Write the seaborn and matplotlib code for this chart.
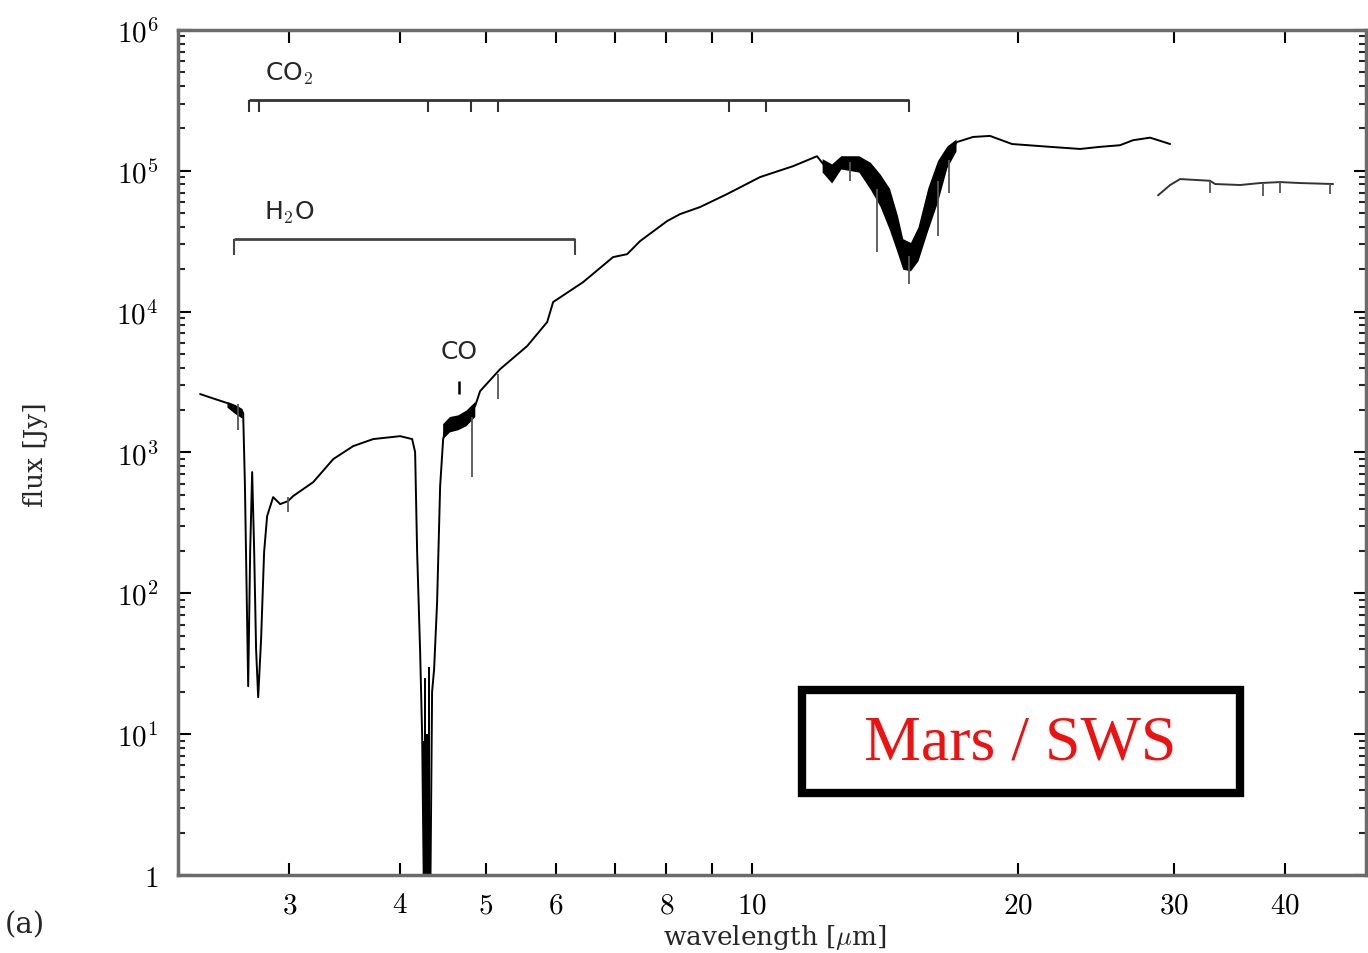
"""
Mars ISO/SWS spectrum - flux vs wavelength (log-log)
"""

import numpy as np
import matplotlib
matplotlib.use('Agg')
import matplotlib.pyplot as plt
from matplotlib.patches import Rectangle
from matplotlib.ticker import FixedLocator, NullLocator, LogLocator, NullFormatter
import seaborn as sns

# --- spectrum (wavelength in micron, flux in Jy) ---
main_wl = [2.378, 2.473, 2.572, 2.639, 2.653, 2.660, 2.672, 2.695, 2.709, 2.723, 2.737, 2.751,
           2.766, 2.787, 2.809, 2.831, 2.876, 2.929, 2.990, 3.029, 3.192, 3.363, 3.542, 3.731,
           4.002, 4.129, 4.161, 4.183, 4.216, 4.238, 4.260, 4.304, 4.327, 4.349, 4.372, 4.406,
           4.441, 4.476, 4.522, 4.617, 4.739, 4.864, 4.928, 5.192, 5.570, 5.867, 5.959, 6.442,
           6.965, 7.224, 7.472, 8.017, 8.292, 8.733, 9.371, 10.21, 11.13, 11.84, 12.03, 12.25,
           12.35, 12.57, 13.24, 13.60, 13.95, 14.32, 14.58, 14.81, 15.09, 15.36, 15.77, 16.18,
           16.61, 17.04, 17.77, 18.57, 19.67, 21.72, 23.48, 24.73, 26.05, 26.95, 28.17, 29.68]
main_flux = [2600, 2394, 2208, 2033, 1968, 1900, 600, 21.9, 200, 726, 206, 40,
             18.3, 47, 196, 353, 482, 430, 452, 490, 616, 898, 1110, 1245,
             1306, 1245, 1007, 196, 38, 9.7, 0.5, 0.5, 0.5, 20, 29, 86.5,
             577, 1245, 1650, 1591, 1784, 2136, 2729, 3910, 5700, 8430, 11700, 16200,
             24400, 25600, 31700, 44000, 49300, 55300, 68400, 90300, 108000, 127000, 112000, 91800,
             108000, 117000, 117000, 91800, 74300, 56200, 36700, 26500, 24800, 29200, 56200, 87400,
             127000, 160000, 174000, 177000, 155000, 148000, 143000, 148000, 152000, 165000, 172000, 155000]

# long-wavelength (LW) segment, offset from the SW part
lw_wl = [28.76, 29.68, 30.46, 32.92, 33.36, 35.60, 37.50, 39.51, 41.62, 45.35]
lw_flux = [67000, 79300, 87400, 85000, 80600, 79300, 81900, 83200, 81900, 80600]

# noisy parts of the spectrum (lower / upper envelope)
noise_wl = [12.0, 12.3, 12.6, 13.2, 13.6, 13.95, 14.3, 14.6, 14.8, 15.1, 15.4, 15.8, 16.2, 16.6, 17.0]
noise_lo = [98000, 82000, 103000, 98000, 74000, 56000, 38000, 26000, 20000, 19500, 23000, 38000, 60000, 105000, 138000]
noise_hi = [122000, 112000, 128000, 128000, 115000, 95000, 75000, 48000, 33000, 31000, 40000, 76000, 118000, 150000, 168000]

co_band_wl = [4.47, 4.55, 4.65, 4.75, 4.86]
co_band_lo = [1250, 1400, 1450, 1550, 1800]
co_band_hi = [1600, 1800, 1850, 2000, 2300]

h2o_band_wl = [2.55, 2.60, 2.653]
h2o_band_lo = [2100, 1900, 1750]
h2o_band_hi = [2300, 2200, 2050]

# saturated 4.3 micron CO2 core
core_wl = [4.25, 4.27, 4.29, 4.31, 4.33]
core_hi = [9, 25, 10, 30, 20]

# single-channel spikes
spike_wl = [2.626, 2.99, 4.826, 5.164, 12.9, 13.84, 15.05, 16.23, 16.7, 32.9, 37.8, 39.5, 45.0]
spike_top = [2200, 480, 1780, 3600, 115000, 74000, 24800, 85000, 120000, 84000, 82000, 83000, 80000]
spike_bot = [1450, 380, 668, 2400, 85000, 26500, 15700, 34400, 70000, 70000, 66000, 70000, 68000]

# band identifications
co2_lines = [2.70, 2.77, 4.30, 4.81, 5.16, 9.41, 10.37, 15.05]
h2o_range = [2.60, 6.31]
co_line = 4.67

xticks = [3, 4, 5, 6, 7, 8, 9, 10, 20, 30, 40]
xtick_labels = ['$3$', '$4$', '$5$', '$6$', '', '$8$', '', '$10$', '$20$', '$30$', '$40$']
yticks = [1, 1e1, 1e2, 1e3, 1e4, 1e5, 1e6]
ytick_labels = ['$1$', '$10^1$', '$10^2$', '$10^3$', '$10^4$', '$10^5$', '$10^6$']

sns.set_theme(style='ticks')
plt.rcParams['font.family'] = ['DejaVu Serif']
plt.rcParams['mathtext.fontset'] = 'cm'

fig = plt.figure(figsize=(13.68, 9.54), dpi=100)
ax = fig.add_axes([0.1301, 0.0818, 0.8684, 0.8857])
ax.set_xscale('log')
ax.set_yscale('log')

sns.lineplot(x=main_wl, y=main_flux, ax=ax, color='black', lw=1.4, sort=False, estimator=None)
sns.lineplot(x=lw_wl, y=lw_flux, ax=ax, color='#333333', lw=1.4, sort=False, estimator=None)

ax.fill_between(noise_wl, noise_lo, noise_hi, color='black', lw=0)
ax.fill_between(co_band_wl, co_band_lo, co_band_hi, color='black', lw=0)
ax.fill_between(h2o_band_wl, h2o_band_lo, h2o_band_hi, color='black', lw=0)
ax.fill_between(core_wl, 0.3, core_hi, color='black', lw=0, step='mid')
ax.vlines(spike_wl, spike_bot, spike_top, color='#555555', lw=1.3)

# CO2 bracket
co2_y, co2_tick = 3.2e5, 2.6e5
ax.hlines(co2_y, co2_lines[0], co2_lines[-1], color='#333333', lw=2)
ax.vlines(co2_lines, co2_tick, co2_y, color='#333333', lw=1.5)
ax.text(3.0, 5.0e5, 'CO$_2$', ha='center', va='center', fontsize=18, family='DejaVu Sans')

# H2O bracket
h2o_y, h2o_tick = 3.28e4, 2.52e4
ax.hlines(h2o_y, h2o_range[0], h2o_range[1], color='#444444', lw=2)
ax.vlines(h2o_range, h2o_tick, h2o_y, color='#444444', lw=1.5)
ax.text(3.0, 5.1e4, 'H$_2$O', ha='center', va='center', fontsize=18, family='DejaVu Sans')

# CO mark
ax.vlines(co_line, 2600, 3210, color='black', lw=1.8)
ax.text(co_line, 5250, 'CO', ha='center', va='center', fontsize=18, family='DejaVu Sans')

ax.set_xlim(2.245, 49.4)
ax.set_ylim(1, 1e6)

ax.xaxis.set_major_locator(FixedLocator(xticks))
ax.set_xticklabels(xtick_labels)
ax.xaxis.set_minor_locator(NullLocator())
ax.yaxis.set_major_locator(FixedLocator(yticks))
ax.set_yticklabels(ytick_labels)
ax.yaxis.set_minor_locator(LogLocator(base=10, subs=np.arange(2, 10), numticks=20))
ax.yaxis.set_minor_formatter(NullFormatter())

ax.tick_params(which='major', direction='in', length=9, width=1.5, top=True, right=True,
               labelsize=21, colors='black')
ax.xaxis.set_tick_params(which='major', pad=11)
ax.yaxis.set_tick_params(which='major', pad=14)
ax.tick_params(which='minor', direction='in', length=5, width=1.5, right=True)
for s in ax.spines.values():
    s.set_color('#6b6b6b')
    s.set_linewidth(2.5)

fig.text(775 / 1368, 1 - 938 / 954, r'wavelength [$\mu$m]', ha='center', va='center', fontsize=19)
fig.text(35 / 1368, 1 - 455 / 954, 'flux [Jy]', ha='center', va='center', fontsize=19, rotation=90)
fig.text(25 / 1368, 1 - 925 / 954, '(a)', ha='center', va='center', fontsize=21)

# label box
ax.add_patch(Rectangle((0.525, 0.097), 0.369, 0.122, transform=ax.transAxes,
                       fill=False, edgecolor='black', lw=6, zorder=5))
ax.text(0.709, 0.155, 'Mars / SWS', transform=ax.transAxes, ha='center', va='center',
        fontsize=46, family='Liberation Serif', color='#ee1111', zorder=6)

fig.savefig('out.png', dpi=100)
